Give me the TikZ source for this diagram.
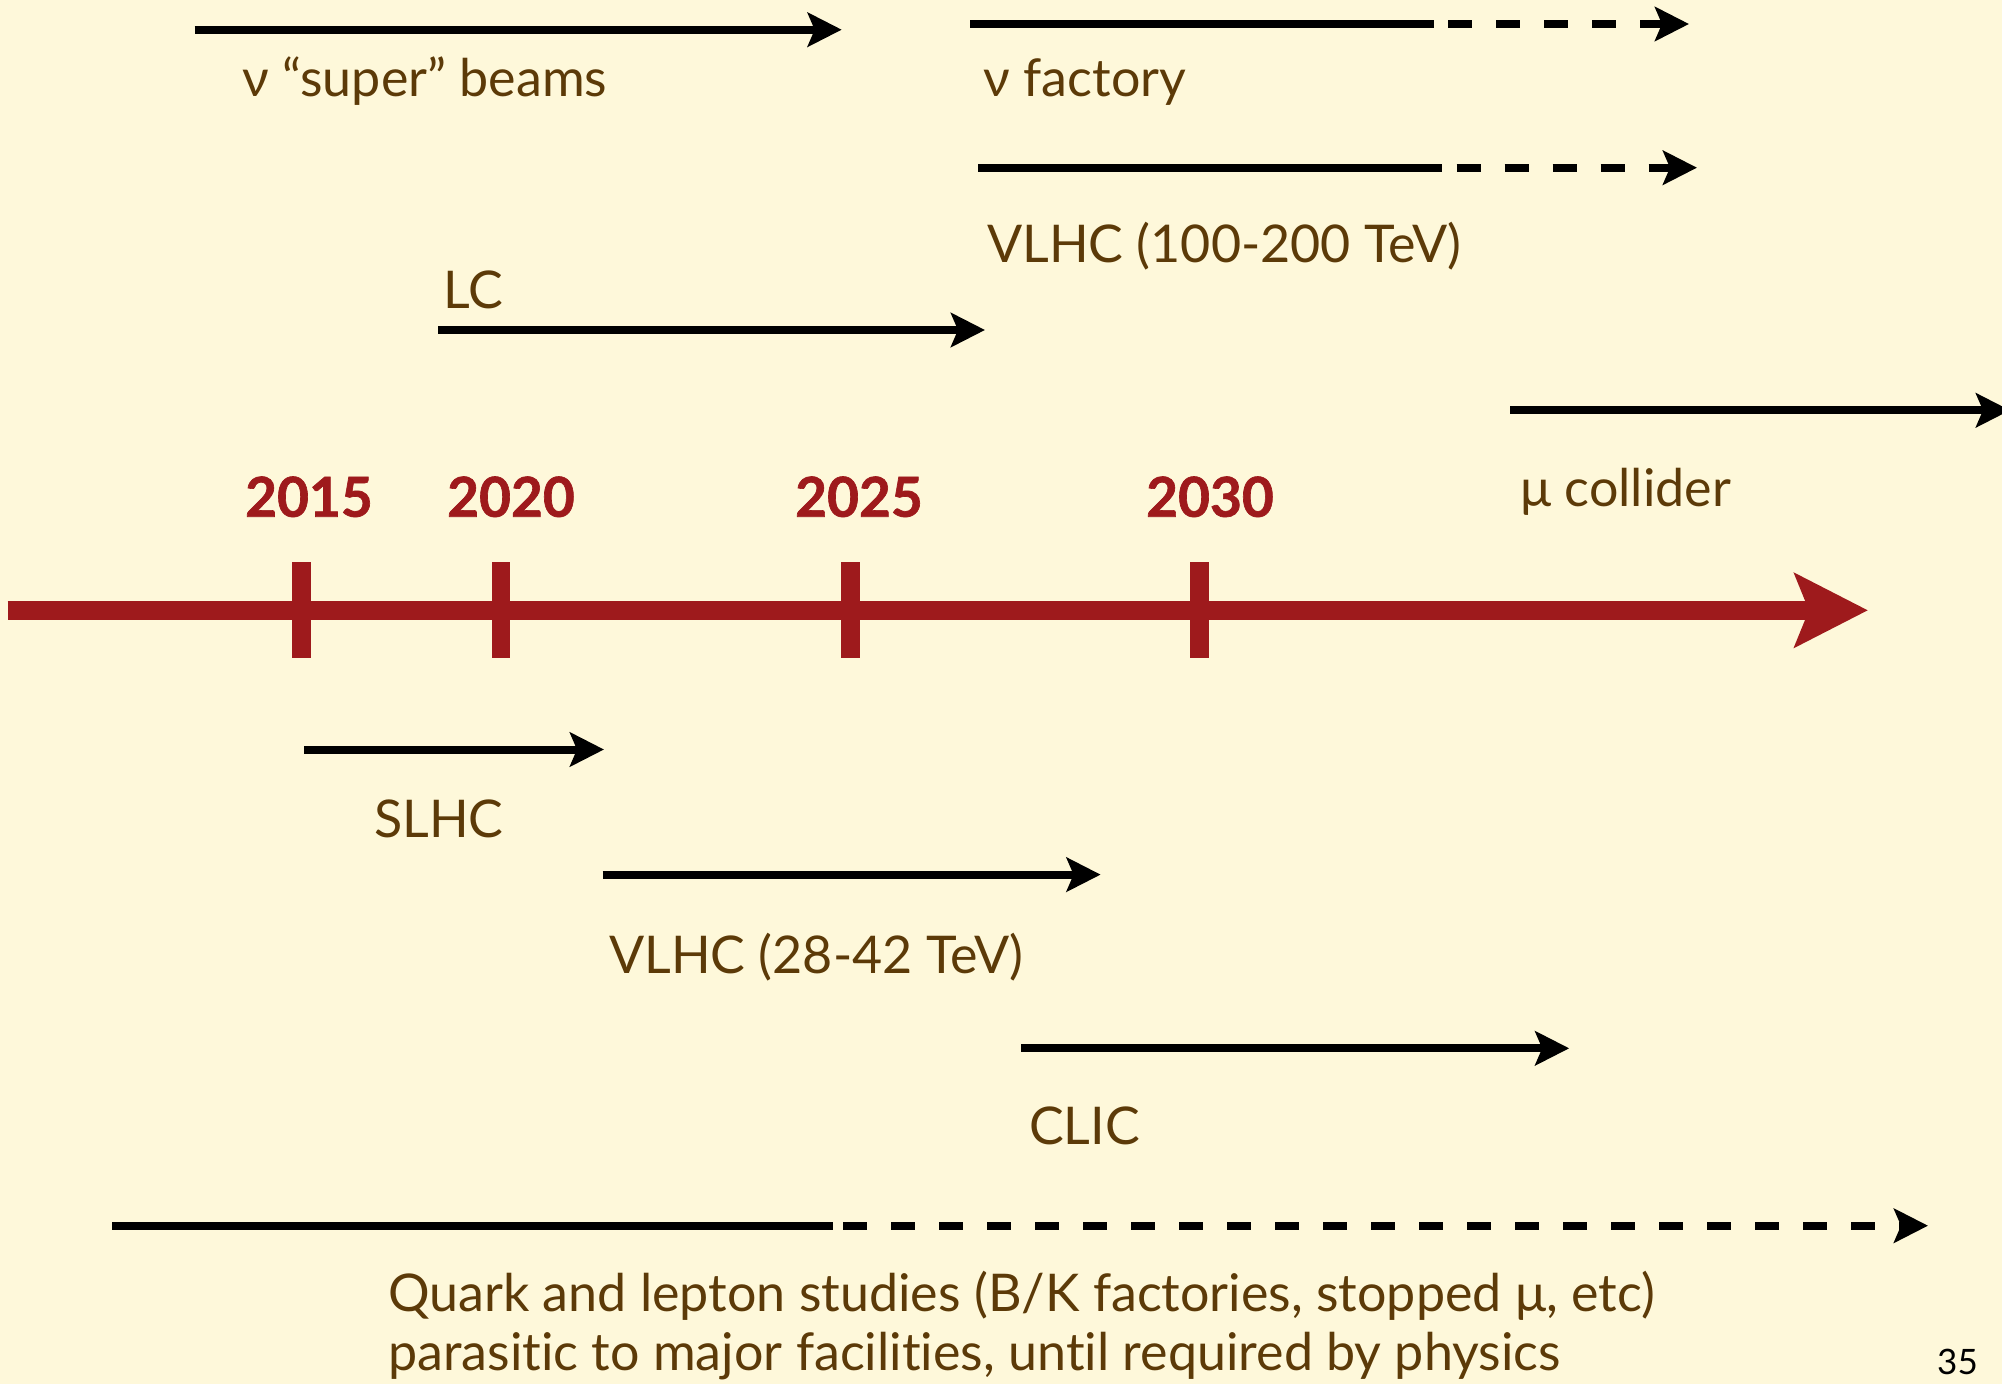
\documentclass[tikz,border=0pt]{standalone}
\usepackage{fontspec}
\setmainfont{Lato}[Ligatures={NoCommon,TeX}]
\newfontfamily\yrfont{Lato}[BoldFeatures={FakeBold=1.2}]
\usetikzlibrary{arrows.meta}
\definecolor{bgcream}{HTML}{FEF8DA}
\definecolor{txtbrown}{HTML}{5C3A08}
\definecolor{tlred}{HTML}{9E1A1C}
\begin{document}
\begin{tikzpicture}[x=1pt,y=-1pt,
  lbl/.style={anchor=base west, inner sep=0pt, text=txtbrown, font=\fontsize{52}{60}\selectfont},
  yr/.style={anchor=base, inner sep=0pt, text=tlred, font=\yrfont\fontsize{55}{60}\selectfont\bfseries},
  bar/.style={line width=8pt, draw=black},
  barhead/.style={-{Stealth[length=34pt,width=34pt,inset=7pt]}},
  dashstyle/.style={dash pattern=on 24pt off 24pt},
  tick/.style={draw=tlred, line width=18.5pt},
]
\fill[bgcream] (0,0) rectangle (2002,1384);
\useasboundingbox (0,0) rectangle (2002,1384);

% timeline
\coordinate (t0) at (7.7,610.3);
\coordinate (t1) at (1868,610.3);
\draw[tlred, line width=19pt, -{Stealth[length=73pt,width=73pt,inset=14pt]}] (t0) -- (t1);
\foreach \x/\n in {301.4/a,501/b,850.5/c,1199.6/d}{
  \coordinate (tk\n top) at (\x,562.3);
  \coordinate (tk\n bot) at (\x,658.3);
  \draw[tick] (tk\n top) -- (tk\n bot);
}
\node[yr] (y2015) at (309,516.7) {2015};
\node[yr] (y2020) at (511,516.7) {2020};
\node[yr] (y2025) at (859,516.7) {2025};
\node[yr] (y2030) at (1210,516.7) {2030};

% nu super beams
\coordinate (sb0) at (194.7,29.7);
\coordinate (sb1) at (841.7,29.7);
\draw[bar, barhead] (sb0) -- (sb1);
\node[lbl] (sbl) at (242,96) {ν “super” beams};

% nu factory
\coordinate (nf0) at (970,24);
\coordinate (nf1) at (1434,24);
\coordinate (nf2) at (1448,24);
\coordinate (nf3) at (1689,24);
\draw[bar] (nf0) -- (nf1);
\draw[bar, dashstyle, barhead] (nf2) -- (nf3);
\node[lbl] (nfl) at (983.5,96) {ν factory};

% VLHC 100-200
\coordinate (vh0) at (978,167.7);
\coordinate (vh1) at (1442,167.7);
\coordinate (vh2) at (1456.7,167.7);
\coordinate (vh3) at (1697,167.7);
\draw[bar] (vh0) -- (vh1);
\draw[bar, dashstyle, barhead] (vh2) -- (vh3);
\node[lbl] (vhl) at (987,262.7) {VLHC (100-200 TeV)};

% LC
\node[lbl] (lcl) at (443,308) {LC};
\coordinate (lc0) at (438,330);
\coordinate (lc1) at (985,330);
\draw[bar, barhead] (lc0) -- (lc1);

% mu collider
\coordinate (mc0) at (1510,410.3);
\coordinate (mc1) at (2010,410.3);
\draw[bar, barhead] (mc0) -- (mc1);
\node[lbl] (mcl) at (1520,506.7) {μ collider};

% SLHC
\coordinate (sl0) at (304,749.5);
\coordinate (sl1) at (604,749.5);
\draw[bar, barhead] (sl0) -- (sl1);
\node[lbl] (sll) at (374,837.6) {SLHC};

% VLHC 28-42
\coordinate (vl0) at (602.6,874.6);
\coordinate (vl1) at (1100.6,874.6);
\draw[bar, barhead] (vl0) -- (vl1);
\node[lbl] (vll) at (609,973) {VLHC (28-42 TeV)};

% CLIC
\coordinate (cl0) at (1021.4,1048.3);
\coordinate (cl1) at (1569.2,1048.3);
\draw[bar, barhead] (cl0) -- (cl1);
\node[lbl] (cll) at (1029,1144) {CLIC};

% Quark and lepton
\coordinate (qk0) at (112,1225.7);
\coordinate (qk1) at (832.5,1225.7);
\coordinate (qk2) at (843,1225.7);
\coordinate (qk3) at (1928,1225.7);
\draw[bar] (qk0) -- (qk1);
\draw[bar, dashstyle, barhead] (qk2) -- (qk3);
\node[lbl] (qkl1) at (388,1311) {Quark and lepton studies (B/K factories, stopped μ, etc)};
\node[lbl] (qkl2) at (388,1370) {parasitic to major facilities, until required by physics};

% page number
\node[anchor=base west, inner sep=0pt, text=black, font=\fontsize{35}{40}\selectfont] (pg) at (1937,1374) {35};
\end{tikzpicture}
\end{document}
